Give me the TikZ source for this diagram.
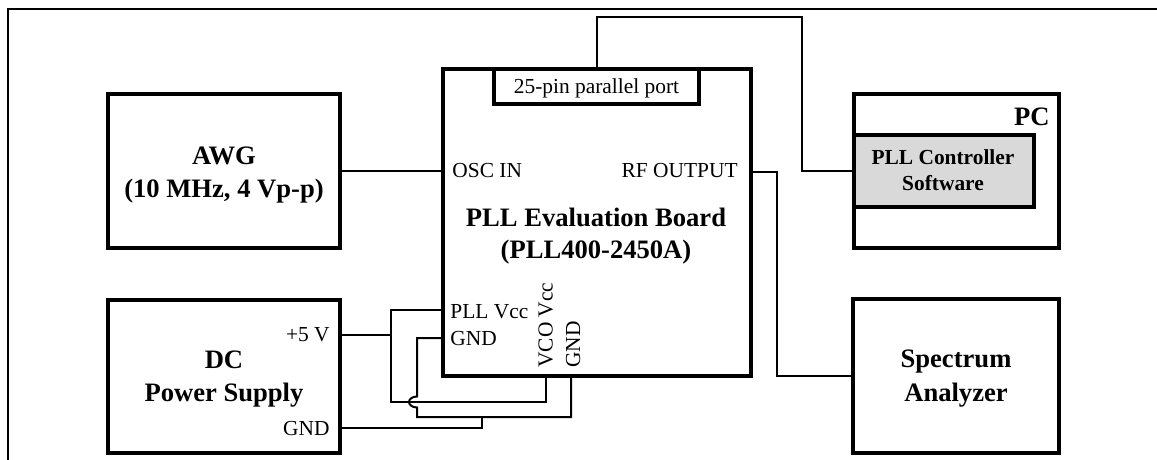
\documentclass[tikz,border=0pt]{standalone}
\usepackage{fontspec}
\setmainfont{Liberation Serif}
\definecolor{swgray}{RGB}{217,217,217}
\begin{document}
\begin{tikzpicture}[x=0.5pt,y=-0.5pt,
  box/.style={draw,line width=1.6pt,rectangle,inner sep=0pt},
  wire/.style={line width=1pt},
  lbl/.style={inner sep=0pt,font=\fontsize{10.7}{12}\selectfont},
  big/.style={inner sep=0pt,font=\fontsize{13.3}{15}\selectfont\bfseries},
  small/.style={inner sep=0pt,font=\fontsize{10.7}{12}\selectfont\bfseries}]
\useasboundingbox (0,0) rectangle (1157,460);
% outer frame
\draw[line width=1.1pt] (8,470) -- (8,9) -- (1170,9);

% boxes
\node[box,minimum width=116pt,minimum height=77pt] (awg) at (224,171) {};
\node[box,minimum width=116pt,minimum height=76.5pt] (dc) at (224,376.5) {};
\node[box,minimum width=154pt,minimum height=153.5pt] (board) at (597,222.5) {};
\node[box,fill=white,minimum width=102.5pt,minimum height=17.5pt] (port) at (596.5,86.5) {};
\node[box,minimum width=102.5pt,minimum height=77pt] (pc) at (956.5,171) {};
\node[box,fill=swgray,minimum width=90pt,minimum height=36pt] (sw) at (944,171) {};
\node[box,minimum width=103pt,minimum height=77pt] (sa) at (956,376) {};

% box texts
\node[big,anchor=base] (awgA) at (224,164.8) {AWG};
\node[big,anchor=base] (awgB) at (224,197.8) {(10 MHz, 4 Vp-p)};
\node[big,anchor=base] (dcA) at (224,368.8) {DC};
\node[big,anchor=base] (dcB) at (224,401.5) {Power Supply};
\node[big,anchor=base] (saA) at (956,367.8) {Spectrum};
\node[big,anchor=base] (saB) at (956,401.8) {Analyzer};
\node[big,anchor=base] (bdA) at (596,226.3) {PLL Evaluation Board};
\node[big,anchor=base] (bdB) at (596,258.8) {(PLL400-2450A)};
\node[big,anchor=base east] (pcl) at (1050,125.8) {PC};
\node[small,anchor=base] (swA) at (943,164.6) {PLL Controller};
\node[small,anchor=base] (swB) at (943,190.1) {Software};
\node[lbl,anchor=base] (portl) at (596.5,94) {25-pin parallel port};

% pin labels
\node[lbl,anchor=base west] (osc) at (452,177) {OSC IN};
\node[lbl,anchor=base east] (rfo) at (738,177) {RF OUTPUT};
\node[lbl,anchor=base west] (pllvcc) at (450,318) {PLL Vcc};
\node[lbl,anchor=base west] (pllgnd) at (450,345) {GND};
\node[lbl,anchor=base east] (p5) at (330,341.7) {+5 V};
\node[lbl,anchor=base east] (dcgl) at (330,435) {GND};
\node[lbl,anchor=base west,rotate=90] (vcovcc) at (552.5,368) {VCO Vcc};
\node[lbl,anchor=base west,rotate=90] (vcognd) at (580,368) {GND};

% coordinates
\coordinate (ptop) at (802,17);
\coordinate (rfc) at (777,172);
\coordinate (pv) at (443,310);
\coordinate (pg) at (443,338);
\coordinate (j1) at (391,402);
\coordinate (hop) at (417,396.5);
\coordinate (j2) at (417,417);
\coordinate (j3) at (482,417);
\coordinate (vx) at (546,376);
\coordinate (gx) at (571,376);
\coordinate (dc5) at (340,335);
\coordinate (dcg) at (340,428);

% wires
\draw[wire] (awg.east) -- (awg.east -| board.west);
\draw[wire] (port.north) |- (ptop) |- (sw.west);
\draw[wire] (board.east |- rfc) -- (rfc) |- (sa.west);
\draw[wire] (pv) -| (j1) -| (vx);
\draw[wire] (dc5) -- (dc5 -| j1);
\draw[wire] (pg) -| (hop) arc[start angle=90,end angle=270,x radius=4pt,y radius=2.75pt] -- (j2) -| (gx);
\draw[wire] (dcg) -| (j3);
\end{tikzpicture}
\end{document}
